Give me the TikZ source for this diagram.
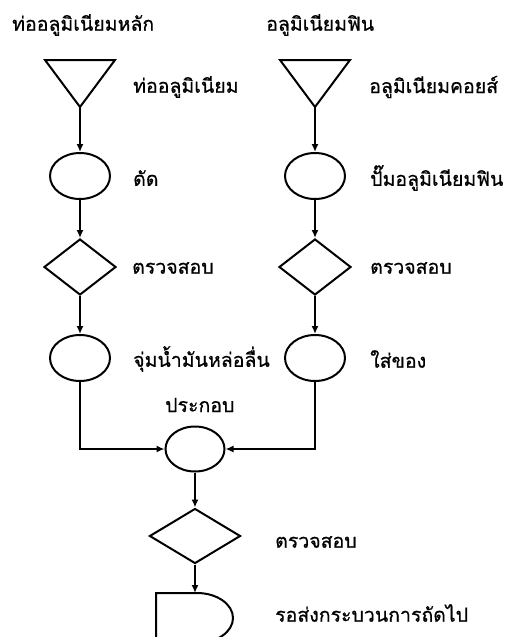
\documentclass[tikz,border=0pt]{standalone}
\usepackage{fontspec}
\newfontfamily\thaifont[Script=Thai,FakeBold=0.7]{Loma}
\usetikzlibrary{shapes.geometric,arrows.meta}
\begin{document}
\begin{tikzpicture}[x=1pt,y=-1pt,
  ln/.style={line width=2pt,draw=black},
  arr/.style={ln,-{Latex[length=8pt,width=7pt]}},
  oval/.style={ellipse,ln,minimum width=60pt,minimum height=46pt,inner sep=0pt},
  chk/.style={diamond,ln,minimum width=72pt,minimum height=56pt,inner sep=0pt},
  lbl/.style={anchor=west,font=\thaifont\fontsize{19.5}{22}\selectfont,inner sep=0pt,text=black}]
\useasboundingbox (0,0) rectangle (508,637);
\fill[white] (0,0) rectangle (508,637);
\clip (0,0) rectangle (508,637);
% left column
\draw[ln,line join=miter] (45,60) -- (115,60) -- (80,107) -- cycle;
\coordinate (ta) at (80,107);
\node[oval] (c1) at (80,176) {};
\node[chk] (d1) at (80,267) {};
\node[oval] (c2) at (80,358) {};
% right column
\draw[ln,line join=miter] (280,60) -- (350,60) -- (315,107) -- cycle;
\coordinate (tb) at (315,107);
\node[oval] (c3) at (315,176) {};
\node[chk] (d2) at (315,267) {};
\node[oval] (c4) at (315,358) {};
% merge
\node[oval,minimum width=59pt,minimum height=45pt] (m) at (195,449) {};
\node[chk,minimum width=91pt,minimum height=55pt] (d3) at (195,536) {};
% delay shape
\draw[ln] (156,650) -- (156,593) -- (197,593) arc[start angle=-90,end angle=90,x radius=36,y radius=25] -- (156,643);
\coordinate (dl) at (195,593);
% connectors
\draw[arr] (ta) -- (c1.north);
\draw[arr] (c1.south) -- (d1.north);
\draw[arr] (d1.south) -- (c2.north);
\draw[arr] (tb) -- (c3.north);
\draw[arr] (c3.south) -- (d2.north);
\draw[arr] (d2.south) -- (c4.north);
\draw[arr] (c2.south) |- (m.west);
\draw[arr] (c4.south) |- (m.east);
\draw[arr] (m.south) -- (d3.north);
\draw[arr] (d3.south) -- (dl);
% labels
\node[lbl] (l1) at (12,25) {ท่ออลูมิเนียมหลัก};
\node[lbl] (l2) at (266,25) {อลูมิเนียมฟิน};
\node[lbl] (l3) at (133,87) {ท่ออลูมิเนียม};
\node[lbl] (l4) at (369,87) {อลูมิเนียมคอยส์};
\node[lbl] (l5) at (133,178) {ดัด};
\node[lbl] (l6) at (370,178) {ปั๊มอลูมิเนียมฟิน};
\node[lbl] (l7) at (132,268) {ตรวจสอบ};
\node[lbl] (l8) at (370,268) {ตรวจสอบ};
\node[lbl] (l9) at (133,359) {จุ่มน้ำมันหล่อลื่น};
\node[lbl] (l10) at (370,359) {ใส่ของ};
\node[lbl] (l11) at (165,405) {ประกอบ};
\node[lbl] (l12) at (275,542) {ตรวจสอบ};
\node[lbl] (l13) at (275,613) {รอส่งกระบวนการถัดไป};
\end{tikzpicture}
\end{document}
